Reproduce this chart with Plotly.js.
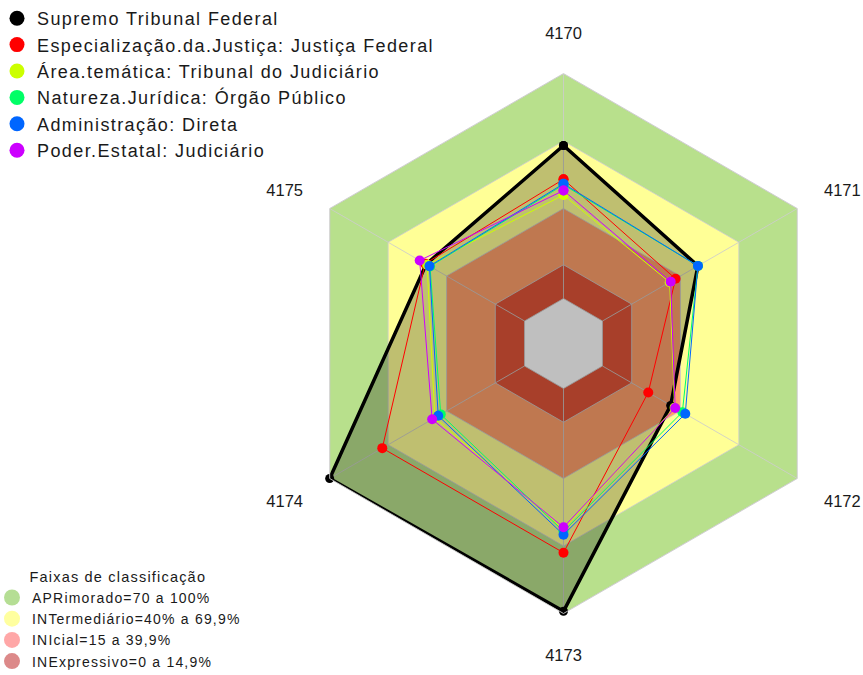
<!DOCTYPE html>
<html>
<head>
<meta charset="utf-8">
<script src="https://cdn.plot.ly/plotly-3.0.1.min.js"></script>
<style>
html,body{margin:0;padding:0;background:#fff;}
#chart{width:863px;height:675px;}
.legend text.legendtext{letter-spacing:1.4px;}
.legend2 text{letter-spacing:1.2px;}
.legend .scrollbox, .legend2 .scrollbox{clip-path:none !important;}
.legend .scrollbox{transform:translate(-3px,0px);}
.legend2 .scrollbox{transform:translate(-8px,0px);}
</style>
</head>
<body>
<div id="chart"></div>
<script>
// ---- data ----
const categories = ['4170', '4171', '4172', '4173', '4174', '4175'];

const seriesNames = [
  'Supremo Tribunal Federal',
  'Especialização.da.Justiça: Justiça Federal',
  'Área.temática: Tribunal do Judiciário',
  'Natureza.Jurídica: Órgão Público',
  'Administração: Direta',
  'Poder.Estatal: Judiciário'
];
const stf       = [68, 49, 35, 99, 100, 50.5];
const justFed   = [53, 37.5, 23.5, 73, 73, 51];
const areaTem   = [46, 34.5, 37, 62.5, 46, 50];
const natJur    = [50.5, 49, 41, 63.5, 43, 48.5];
const adminDir  = [51, 49, 42.5, 65, 44.3, 48.8];
const poderEst  = [48, 35, 37.3, 61.7, 47.4, 53.8];

const bandLevels = [100, 70, 40, 15, 0];        // outer limit of each band (last = empty centre)
const gridLevels = [0, 15, 40, 70, 100];
const bandNames = ['APRimorado=70 a 100%', 'INTermediário=40% a 69,9%', 'INIcial=15 a 39,9%', 'INExpressivo=0 a 14,9%'];
const legendTitle2 = 'Faixas de classificação';

// ---- styles ----
const seriesColors = ['#000000', '#FF0000', '#CCFF00', '#00FF66', '#0066FF', '#CC00FF'];
const bandColors = ['#b8e08c', '#ffff96', '#ffa06b', '#e05538', '#ffffff'];
const bandLegendColors = ['rgba(120,195,60,0.55)', 'rgba(255,255,80,0.55)', 'rgba(255,80,80,0.5)', 'rgba(185,20,20,0.5)'];
const FONT = 'Liberation Sans, Arial, sans-serif';

function closed(a) { return a.concat([a[0]]); }

const traces = [];

// bands (drawn largest first)
bandLevels.forEach((lv, i) => {
  traces.push({
    type: 'scatterpolar', mode: 'lines',
    r: categories.map(() => lv), theta: categories,
    fill: 'toself', fillcolor: bandColors[i],
    line: {width: 0, color: bandColors[i]},
    hoverinfo: 'skip', showlegend: false
  });
});

// ring grid lines
gridLevels.forEach(lv => {
  traces.push({
    type: 'scatterpolar', mode: 'lines',
    r: closed(categories.map(() => lv)), theta: closed(categories),
    line: {width: 1, color: 'rgba(205,205,205,0.85)'},
    hoverinfo: 'skip', showlegend: false
  });
});

// spokes
const spokeR = [], spokeT = [];
categories.forEach(c => { spokeR.push(gridLevels[0], gridLevels[gridLevels.length - 1], null); spokeT.push(c, c, c); });
traces.push({
  type: 'scatterpolar', mode: 'lines', r: spokeR, theta: spokeT,
  line: {width: 1, color: 'rgba(205,205,205,0.85)'}, connectgaps: false,
  hoverinfo: 'skip', showlegend: false
});

// series
const seriesData = [stf, justFed, areaTem, natJur, adminDir, poderEst];
seriesData.forEach((vals, i) => {
  const isMain = i === 0;
  traces.push({
    type: 'scatterpolar', mode: 'lines+markers',
    name: seriesNames[i],
    r: closed(vals), theta: closed(categories),
    fill: isMain ? 'toself' : 'none',
    fillcolor: 'rgba(0,0,0,0.25)',
    line: {color: seriesColors[i], width: isMain ? 3.5 : 1},
    marker: {color: seriesColors[i], size: isMain ? 9 : 10},
    showlegend: false
  });
});

// legend entries (marker-only)
seriesNames.forEach((n, i) => {
  traces.push({
    type: 'scatterpolar', mode: 'markers', name: n,
    r: [null], theta: [categories[0]],
    marker: {color: seriesColors[i], size: 15},
    legend: 'legend', showlegend: true, hoverinfo: 'skip'
  });
});
bandNames.forEach((n, i) => {
  traces.push({
    type: 'scatterpolar', mode: 'markers', name: n,
    r: [null], theta: [categories[0]],
    marker: {color: bandLegendColors[i], size: 16, line: {width: 0}},
    legend: 'legend2', showlegend: true, hoverinfo: 'skip'
  });
});

const layout = {
  width: 863, height: 675,
  margin: {l: 0, r: 0, t: 0, b: 0, autoexpand: false},
  paper_bgcolor: '#ffffff',
  font: {family: FONT, color: '#1a1a1a'},
  polar: {
    domain: {x: [0.3401, 0.9658], y: [0.0911, 0.8911]},
    gridshape: 'linear',
    bgcolor: 'rgba(0,0,0,0)',
    radialaxis: {range: [-20, 100], visible: false, showgrid: false, showline: false, showticklabels: false},
    angularaxis: {
      type: 'category', rotation: 90, direction: 'clockwise',
      showgrid: false, showline: true, linecolor: 'rgba(205,205,205,0.9)', linewidth: 1,
      ticks: 'outside', ticklen: 27, tickcolor: 'rgba(0,0,0,0)',
      tickfont: {family: FONT, size: 16.5, color: '#1a1a1a'}
    }
  },
  legend: {
    x: 0, y: 1, xanchor: 'left', yanchor: 'top',
    bgcolor: 'rgba(0,0,0,0)', font: {family: FONT, size: 18, color: '#1a1a1a'},
    itemsizing: 'trace', tracegroupgap: 0
  },
  legend2: {
    x: 0, y: -0.003, xanchor: 'left', yanchor: 'bottom',
    bgcolor: 'rgba(0,0,0,0)', font: {family: FONT, size: 14, color: '#1a1a1a'},
    title: {text: legendTitle2, side: 'top center', font: {family: FONT, size: 14.5, color: '#1a1a1a'}},
    itemsizing: 'trace', tracegroupgap: 0
  },
  showlegend: true
};

Plotly.newPlot('chart', traces, layout, {displayModeBar: false, staticPlot: true});
</script>
</body>
</html>
